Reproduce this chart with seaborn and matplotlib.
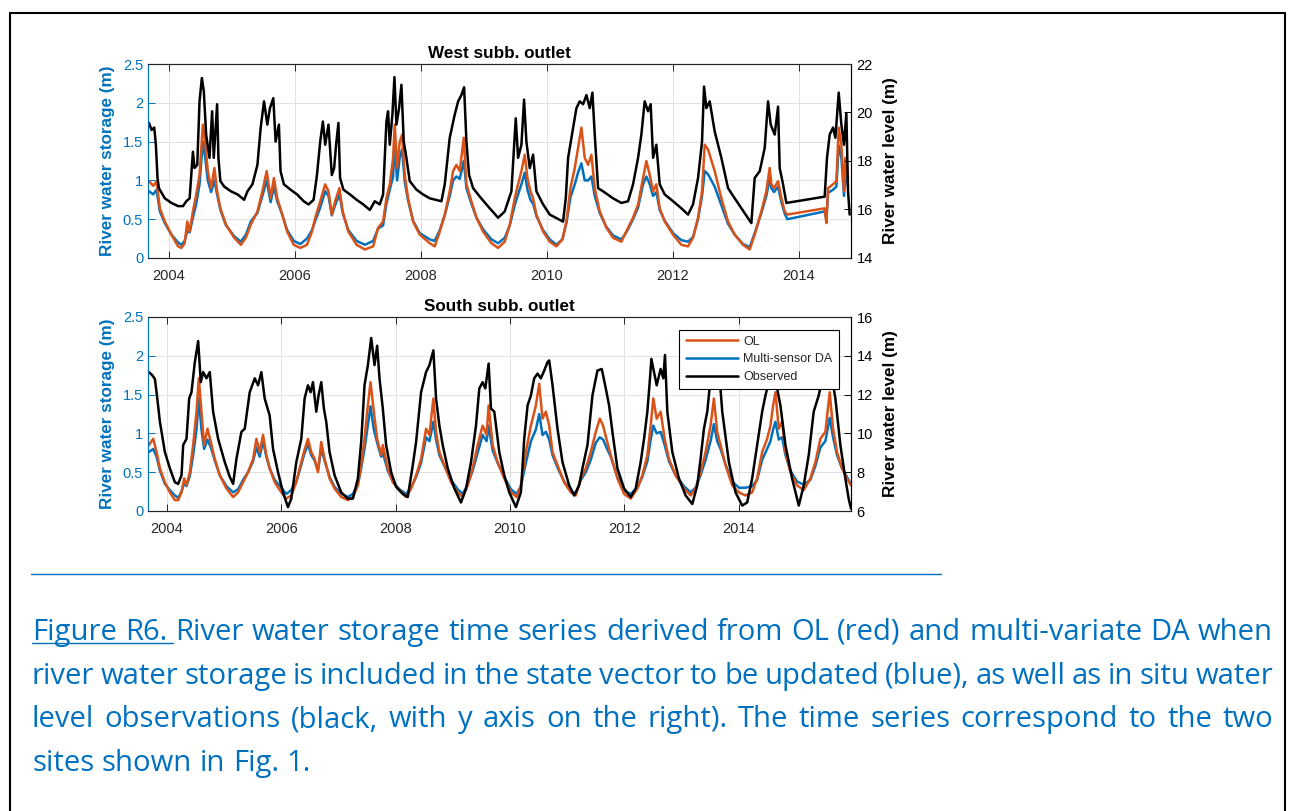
import matplotlib
matplotlib.use("Agg")
import matplotlib.pyplot as plt
from matplotlib.lines import Line2D
import seaborn as sns

# ---------------- data ----------------
# West subbasin outlet: observed water level (m, right axis)
west_obs_year = [2003.685, 2003.727, 2003.769, 2003.795, 2003.821, 2003.843, 2003.937, 2004.042, 2004.147, 2004.226,
                 2004.278, 2004.331, 2004.383, 2004.409, 2004.452, 2004.488, 2004.525, 2004.556, 2004.593, 2004.646,
                 2004.688, 2004.714, 2004.767, 2004.788, 2004.819, 2004.882, 2004.987, 2005.092, 2005.197, 2005.249,
                 2005.328, 2005.407, 2005.459, 2005.512, 2005.564, 2005.606, 2005.659, 2005.696, 2005.748, 2005.774,
                 2005.827, 2005.932, 2006.037, 2006.142, 2006.220, 2006.299, 2006.352, 2006.404, 2006.446, 2006.483,
                 2006.535, 2006.588, 2006.625, 2006.656, 2006.693, 2006.719, 2006.772, 2006.877, 2006.982, 2007.087,
                 2007.192, 2007.270, 2007.349, 2007.402, 2007.455, 2007.481, 2007.508, 2007.550, 2007.582, 2007.614,
                 2007.656, 2007.693, 2007.730, 2007.772, 2007.825, 2007.931, 2008.037, 2008.143, 2008.328, 2008.381,
                 2008.460, 2008.540, 2008.593, 2008.645, 2008.688, 2008.725, 2008.767, 2008.831, 2008.937, 2009.095,
                 2009.228, 2009.333, 2009.439, 2009.508, 2009.545, 2009.598, 2009.640, 2009.677, 2009.730, 2009.783,
                 2009.836, 2009.942, 2010.048, 2010.259, 2010.302, 2010.339, 2010.392, 2010.471, 2010.524, 2010.577,
                 2010.630, 2010.683, 2010.725, 2010.762, 2010.815, 2010.894, 2011.053, 2011.185, 2011.291, 2011.370,
                 2011.450, 2011.502, 2011.555, 2011.608, 2011.650, 2011.688, 2011.740, 2011.793, 2011.873, 2012.005,
                 2012.137, 2012.243, 2012.322, 2012.402, 2012.465, 2012.497, 2012.534, 2012.587, 2012.666, 2012.772,
                 2012.878, 2012.984, 2013.090, 2013.248, 2013.301, 2013.381, 2013.460, 2013.513, 2013.555, 2013.619,
                 2013.672, 2013.698, 2013.751, 2013.804, 2014.412, 2014.449, 2014.492, 2014.545, 2014.582, 2014.635,
                 2014.677, 2014.719, 2014.756, 2014.783, 2014.809]
west_obs_level = [19.57, 19.28, 19.38, 18.67, 17.30, 16.88, 16.46, 16.27, 16.14, 16.14,
                  16.34, 16.46, 18.38, 17.71, 17.84, 20.46, 21.42, 20.88, 19.09, 18.13,
                  20.05, 18.13, 20.34, 18.13, 17.17, 16.94, 16.75, 16.62, 16.40, 16.75,
                  17.04, 17.84, 19.38, 20.46, 19.50, 20.18, 20.59, 18.80, 19.50, 17.58,
                  17.04, 16.82, 16.62, 16.34, 16.21, 16.40, 17.42, 18.80, 19.63, 18.67,
                  19.50, 17.42, 17.71, 18.67, 19.57, 17.30, 16.82, 16.62, 16.40, 16.21,
                  15.98, 16.34, 16.21, 16.62, 19.63, 20.05, 18.67, 19.92, 21.46, 19.50,
                  20.18, 21.14, 18.80, 18.13, 17.17, 16.82, 16.62, 16.46, 16.34, 17.04,
                  18.96, 19.92, 20.46, 20.72, 21.04, 18.80, 17.42, 16.88, 16.53, 16.05,
                  15.66, 15.92, 16.75, 19.76, 18.13, 18.67, 20.53, 18.80, 17.71, 18.26,
                  16.75, 16.21, 15.79, 15.50, 16.46, 18.13, 18.96, 20.18, 20.46, 20.34,
                  20.72, 20.18, 20.82, 19.09, 16.88, 16.75, 16.46, 16.27, 16.34, 17.04,
                  18.13, 19.09, 20.46, 20.05, 20.34, 18.13, 18.67, 17.04, 16.62, 16.34,
                  16.05, 15.79, 16.21, 17.30, 18.80, 21.07, 20.18, 20.46, 19.22, 18.13,
                  16.88, 16.46, 16.05, 15.44, 17.30, 17.58, 18.54, 20.46, 19.50, 19.09,
                  20.24, 17.71, 17.04, 16.27, 16.53, 18.13, 19.09, 19.38, 18.96, 20.82,
                  19.50, 18.67, 19.98, 16.75, 15.79]

# West subbasin outlet: simulated river water storage (m, left axis)
west_sim_year = [2003.685, 2003.753, 2003.806, 2003.858, 2003.937, 2004.042, 2004.147, 2004.200, 2004.252, 2004.294,
                 2004.331, 2004.383, 2004.436, 2004.488, 2004.541, 2004.577, 2004.619, 2004.672, 2004.724, 2004.767,
                 2004.819, 2004.908, 2005.039, 2005.144, 2005.223, 2005.302, 2005.407, 2005.486, 2005.554, 2005.617,
                 2005.669, 2005.722, 2005.801, 2005.879, 2005.984, 2006.089, 2006.194, 2006.273, 2006.326, 2006.404,
                 2006.483, 2006.535, 2006.588, 2006.640, 2006.709, 2006.761, 2006.850, 2006.982, 2007.113, 2007.244,
                 2007.323, 2007.402, 2007.455, 2007.508, 2007.561, 2007.587, 2007.624, 2007.667, 2007.704, 2007.746,
                 2007.799, 2007.878, 2007.984, 2008.143, 2008.222, 2008.302, 2008.381, 2008.460, 2008.513, 2008.566,
                 2008.619, 2008.683, 2008.725, 2008.804, 2008.884, 2008.989, 2009.122, 2009.228, 2009.333, 2009.413,
                 2009.492, 2009.545, 2009.598, 2009.651, 2009.693, 2009.741, 2009.783, 2009.836, 2009.942, 2010.048,
                 2010.153, 2010.249, 2010.312, 2010.376, 2010.445, 2010.497, 2010.550, 2010.603, 2010.656, 2010.709,
                 2010.762, 2010.841, 2010.947, 2011.053, 2011.185, 2011.238, 2011.291, 2011.370, 2011.450, 2011.529,
                 2011.582, 2011.635, 2011.688, 2011.740, 2011.793, 2011.873, 2012.005, 2012.137, 2012.243, 2012.322,
                 2012.402, 2012.465, 2012.508, 2012.560, 2012.666, 2012.772, 2012.878, 2012.984, 2013.116, 2013.222,
                 2013.301, 2013.407, 2013.486, 2013.539, 2013.566, 2013.608, 2013.672, 2013.725, 2013.778, 2013.820,
                 2014.412, 2014.439, 2014.466, 2014.545, 2014.598, 2014.635, 2014.677, 2014.719, 2014.740, 2014.783]
west_ol = [0.99, 0.93, 0.99, 0.64, 0.47, 0.30, 0.15, 0.13, 0.19, 0.47,
           0.34, 0.60, 0.82, 1.07, 1.72, 1.50, 1.12, 0.90, 1.16, 0.86,
           0.64, 0.43, 0.26, 0.17, 0.26, 0.43, 0.60, 0.86, 1.12, 0.77,
           1.03, 0.77, 0.56, 0.34, 0.17, 0.13, 0.17, 0.34, 0.52, 0.73,
           0.95, 0.86, 0.56, 0.73, 0.90, 0.60, 0.34, 0.17, 0.11, 0.15,
           0.39, 0.47, 0.77, 0.95, 1.29, 1.72, 1.16, 1.50, 1.59, 1.07,
           0.77, 0.47, 0.30, 0.19, 0.15, 0.34, 0.56, 0.86, 1.12, 1.20,
           1.12, 1.55, 0.95, 0.73, 0.52, 0.34, 0.19, 0.13, 0.21, 0.43,
           0.77, 0.95, 1.12, 1.33, 1.03, 0.86, 0.77, 0.56, 0.34, 0.21,
           0.15, 0.24, 0.47, 0.90, 1.16, 1.42, 1.68, 1.29, 1.20, 1.33,
           0.90, 0.60, 0.39, 0.26, 0.21, 0.30, 0.39, 0.52, 0.69, 1.03,
           1.25, 1.07, 0.86, 0.95, 0.64, 0.47, 0.30, 0.17, 0.15, 0.26,
           0.52, 0.86, 1.46, 1.40, 1.12, 0.77, 0.47, 0.30, 0.17, 0.11,
           0.30, 0.60, 0.86, 1.16, 0.95, 0.90, 0.99, 0.77, 0.60, 0.56,
           0.64, 0.45, 0.90, 0.95, 0.99, 1.68, 1.46, 0.86, 1.29, 1.03]
west_da = [0.86, 0.82, 0.88, 0.60, 0.45, 0.30, 0.20, 0.17, 0.22, 0.35,
           0.33, 0.52, 0.70, 0.95, 1.50, 1.30, 1.00, 0.85, 1.00, 0.82,
           0.62, 0.42, 0.28, 0.21, 0.30, 0.47, 0.58, 0.80, 1.00, 0.72,
           0.92, 0.73, 0.56, 0.36, 0.22, 0.18, 0.25, 0.36, 0.48, 0.65,
           0.86, 0.80, 0.55, 0.68, 0.82, 0.58, 0.36, 0.22, 0.17, 0.22,
           0.38, 0.42, 0.70, 0.88, 1.05, 1.50, 1.00, 1.30, 1.40, 0.98,
           0.74, 0.48, 0.32, 0.24, 0.22, 0.36, 0.55, 0.80, 1.00, 1.05,
           1.02, 1.25, 0.90, 0.70, 0.52, 0.37, 0.24, 0.19, 0.26, 0.42,
           0.68, 0.82, 0.95, 1.10, 0.88, 0.75, 0.70, 0.54, 0.36, 0.24,
           0.17, 0.24, 0.45, 0.78, 0.95, 1.10, 1.22, 1.00, 1.00, 1.05,
           0.80, 0.58, 0.40, 0.29, 0.24, 0.30, 0.37, 0.50, 0.65, 0.95,
           1.05, 0.95, 0.80, 0.85, 0.62, 0.48, 0.32, 0.23, 0.21, 0.27,
           0.50, 0.80, 1.12, 1.08, 0.92, 0.68, 0.44, 0.30, 0.18, 0.14,
           0.32, 0.58, 0.80, 1.02, 0.90, 0.85, 0.92, 0.72, 0.57, 0.50,
           0.60, 0.50, 0.84, 0.88, 0.92, 1.45, 1.30, 0.80, 1.10, 0.92]

# South subbasin outlet: observed water level (m, right axis)
south_obs_year = [2003.686, 2003.744, 2003.791, 2003.820, 2003.878, 2003.965, 2004.052, 2004.140, 2004.198, 2004.256,
                  2004.285, 2004.343, 2004.390, 2004.430, 2004.489, 2004.547, 2004.593, 2004.634, 2004.692, 2004.750,
                  2004.808, 2004.896, 2005.012, 2005.099, 2005.158, 2005.216, 2005.303, 2005.361, 2005.448, 2005.536,
                  2005.594, 2005.652, 2005.710, 2005.797, 2005.856, 2005.943, 2006.030, 2006.117, 2006.175, 2006.263,
                  2006.350, 2006.408, 2006.466, 2006.513, 2006.554, 2006.612, 2006.652, 2006.699, 2006.745, 2006.786,
                  2006.844, 2006.932, 2007.048, 2007.164, 2007.252, 2007.339, 2007.397, 2007.455, 2007.514, 2007.572,
                  2007.630, 2007.676, 2007.717, 2007.775, 2007.833, 2007.921, 2008.008, 2008.124, 2008.211, 2008.299,
                  2008.357, 2008.444, 2008.531, 2008.590, 2008.659, 2008.706, 2008.764, 2008.822, 2008.910, 2009.026,
                  2009.142, 2009.230, 2009.317, 2009.404, 2009.462, 2009.520, 2009.567, 2009.625, 2009.666, 2009.724,
                  2009.811, 2009.898, 2009.986, 2010.102, 2010.189, 2010.247, 2010.306, 2010.364, 2010.422, 2010.480,
                  2010.538, 2010.597, 2010.655, 2010.684, 2010.742, 2010.829, 2010.916, 2011.033, 2011.120, 2011.207,
                  2011.265, 2011.353, 2011.440, 2011.527, 2011.603, 2011.673, 2011.731, 2011.789, 2011.876, 2011.993,
                  2012.109, 2012.196, 2012.283, 2012.342, 2012.400, 2012.446, 2012.470, 2012.516, 2012.563, 2012.632,
                  2012.679, 2012.708, 2012.749, 2012.836, 2012.952, 2013.069, 2013.185, 2013.272, 2013.330, 2013.389,
                  2013.447, 2013.505, 2013.563, 2013.650, 2013.709, 2013.825, 2013.941, 2014.058, 2014.145, 2014.232,
                  2014.319, 2014.407, 2014.465, 2014.552, 2014.610, 2014.668, 2014.726, 2014.814, 2014.930, 2015.047,
                  2015.134, 2015.221, 2015.308, 2015.396, 2015.483, 2015.599, 2015.687, 2015.774, 2015.861, 2015.919,
                  2015.960]
south_obs_level = [13.16, 13.00, 12.80, 12.12, 10.60, 9.04, 8.20, 7.48, 7.40, 7.84,
                   9.40, 9.72, 11.80, 12.12, 13.68, 14.76, 12.64, 13.16, 12.84, 13.16,
                   11.12, 9.72, 8.52, 7.76, 7.40, 8.68, 10.08, 10.24, 12.12, 12.84,
                   12.48, 13.16, 11.80, 10.92, 9.20, 8.00, 6.96, 6.20, 6.64, 8.52,
                   9.72, 11.80, 12.48, 12.12, 12.64, 11.12, 11.96, 12.64, 11.28, 10.60,
                   9.04, 7.84, 6.96, 6.64, 6.64, 7.68, 9.56, 12.48, 13.52, 14.92,
                   13.52, 14.52, 12.84, 11.28, 9.40, 8.00, 7.24, 6.88, 6.72, 8.36,
                   9.56, 12.12, 13.16, 13.52, 14.28, 11.80, 10.40, 9.40, 8.20, 7.16,
                   6.44, 7.16, 8.52, 10.40, 12.32, 12.64, 12.32, 13.60, 11.28, 11.12,
                   9.04, 7.84, 6.96, 6.20, 6.96, 9.72, 11.44, 11.96, 12.84, 13.08,
                   12.84, 13.24, 13.68, 13.76, 12.48, 10.24, 8.52, 7.32, 6.80, 7.32,
                   8.20, 9.40, 11.96, 13.24, 13.32, 12.32, 11.44, 10.08, 8.20, 7.16,
                   6.72, 7.16, 8.52, 9.72, 11.12, 12.84, 13.84, 13.16, 12.48, 13.32,
                   12.84, 14.04, 11.12, 9.04, 7.68, 6.80, 6.36, 7.32, 8.68, 10.24,
                   11.12, 12.84, 13.60, 13.40, 11.12, 8.52, 6.96, 6.28, 6.44, 7.68,
                   9.40, 11.12, 11.96, 13.00, 13.68, 12.32, 11.44, 9.40, 7.68, 6.28,
                   7.32, 8.88, 11.12, 11.96, 13.16, 13.40, 11.80, 9.40, 7.68, 6.64,
                   6.12]

# South subbasin outlet: simulated river water storage (m, left axis)
south_sim_year = [2003.686, 2003.761, 2003.820, 2003.878, 2003.965, 2004.052, 2004.140, 2004.198, 2004.256, 2004.302,
                  2004.343, 2004.401, 2004.459, 2004.518, 2004.558, 2004.605, 2004.651, 2004.710, 2004.768, 2004.838,
                  2004.925, 2005.041, 2005.158, 2005.245, 2005.332, 2005.419, 2005.507, 2005.565, 2005.623, 2005.681,
                  2005.739, 2005.797, 2005.885, 2006.001, 2006.088, 2006.175, 2006.263, 2006.321, 2006.396, 2006.466,
                  2006.524, 2006.583, 2006.641, 2006.699, 2006.757, 2006.844, 2006.932, 2007.048, 2007.164, 2007.252,
                  2007.339, 2007.397, 2007.455, 2007.502, 2007.560, 2007.618, 2007.676, 2007.746, 2007.775, 2007.862,
                  2007.950, 2008.066, 2008.182, 2008.270, 2008.357, 2008.444, 2008.531, 2008.590, 2008.659, 2008.706,
                  2008.764, 2008.851, 2008.968, 2009.084, 2009.171, 2009.259, 2009.346, 2009.433, 2009.520, 2009.590,
                  2009.625, 2009.695, 2009.782, 2009.898, 2010.015, 2010.114, 2010.189, 2010.276, 2010.364, 2010.451,
                  2010.509, 2010.567, 2010.626, 2010.684, 2010.742, 2010.829, 2010.945, 2011.062, 2011.149, 2011.236,
                  2011.324, 2011.411, 2011.498, 2011.568, 2011.626, 2011.684, 2011.760, 2011.876, 2011.993, 2012.109,
                  2012.225, 2012.312, 2012.400, 2012.458, 2012.504, 2012.563, 2012.632, 2012.702, 2012.778, 2012.894,
                  2013.040, 2013.156, 2013.243, 2013.330, 2013.418, 2013.505, 2013.563, 2013.621, 2013.679, 2013.767,
                  2013.883, 2013.999, 2014.116, 2014.232, 2014.319, 2014.407, 2014.494, 2014.552, 2014.598, 2014.639,
                  2014.697, 2014.755, 2014.814, 2014.901, 2015.017, 2015.134, 2015.250, 2015.337, 2015.425, 2015.512,
                  2015.588, 2015.646, 2015.716, 2015.803, 2015.890, 2015.960]
south_ol = [0.85, 0.93, 0.76, 0.55, 0.37, 0.24, 0.14, 0.14, 0.24, 0.42,
            0.33, 0.50, 0.85, 1.28, 1.71, 1.28, 0.85, 1.06, 0.89, 0.67,
            0.46, 0.29, 0.18, 0.24, 0.37, 0.50, 0.67, 0.93, 0.76, 0.98,
            0.72, 0.55, 0.37, 0.24, 0.16, 0.20, 0.37, 0.55, 0.76, 0.93,
            0.76, 0.67, 0.50, 0.89, 0.67, 0.42, 0.29, 0.18, 0.14, 0.18,
            0.33, 0.59, 0.93, 1.28, 1.66, 1.28, 0.93, 0.72,
            0.85, 0.55, 0.37, 0.27, 0.18, 0.29, 0.46, 0.67, 1.06, 0.98,
            1.45, 1.02, 0.76, 0.59, 0.37, 0.24, 0.18, 0.33, 0.55, 0.85,
            1.10, 0.98, 1.36, 0.85, 0.63, 0.42, 0.24, 0.18, 0.33, 0.76,
            1.10, 1.36, 1.64, 1.19, 1.28, 1.10, 0.76, 0.59, 0.37, 0.24,
            0.20, 0.42, 0.55, 0.76, 1.02, 1.19, 1.10, 0.93, 0.72, 0.42,
            0.22, 0.16, 0.29, 0.46, 0.72, 1.10, 1.45, 1.19, 1.28, 0.93,
            0.67, 0.46, 0.29, 0.20, 0.29, 0.50, 0.76, 1.10, 1.45, 1.02,
            0.85, 0.59, 0.33, 0.24, 0.20, 0.24, 0.42, 0.76, 0.93, 1.10,
            1.36, 1.53, 1.06, 1.15, 0.76, 0.50, 0.33, 0.27, 0.42, 0.63,
            0.93, 1.02, 1.53, 1.06, 0.76, 0.55, 0.42, 0.33]
south_da = [0.76, 0.80, 0.70, 0.52, 0.35, 0.27, 0.20, 0.17, 0.25, 0.36,
            0.32, 0.45, 0.72, 1.05, 1.45, 1.05, 0.80, 0.92, 0.82, 0.65,
            0.46, 0.32, 0.24, 0.28, 0.40, 0.50, 0.64, 0.82, 0.70, 0.90,
            0.70, 0.55, 0.40, 0.30, 0.22, 0.27, 0.38, 0.52, 0.72, 0.86,
            0.72, 0.65, 0.52, 0.80, 0.65, 0.44, 0.31, 0.22, 0.18, 0.22,
            0.34, 0.55, 0.80, 1.05, 1.35, 1.05, 0.88, 0.70,
            0.75, 0.52, 0.38, 0.28, 0.22, 0.30, 0.44, 0.62, 0.95, 0.90,
            1.15, 0.92, 0.72, 0.58, 0.40, 0.28, 0.22, 0.34, 0.52, 0.75,
            0.98, 0.90, 1.10, 0.78, 0.62, 0.44, 0.28, 0.22, 0.32, 0.62,
            0.90, 1.05, 1.25, 0.98, 1.02, 0.92, 0.72, 0.56, 0.38, 0.26,
            0.22, 0.40, 0.50, 0.66, 0.88, 0.95, 0.92, 0.82, 0.70, 0.44,
            0.26, 0.22, 0.30, 0.44, 0.64, 0.92, 1.10, 1.00, 1.02, 0.85,
            0.64, 0.46, 0.32, 0.24, 0.30, 0.46, 0.66, 0.90, 1.12, 0.90,
            0.80, 0.60, 0.38, 0.30, 0.30, 0.32, 0.40, 0.66, 0.80, 0.90,
            1.05, 1.15, 0.92, 0.95, 0.72, 0.52, 0.38, 0.34, 0.40, 0.58,
            0.82, 0.90, 1.20, 0.95, 0.72, 0.55, 0.44, 0.34]

series_labels = ["OL", "Multi-sensor DA", "Observed"]
panel_titles = ["West subb. outlet", "South subb. outlet"]
year_ticks = [2004, 2006, 2008, 2010, 2012, 2014]
storage_ticks = [0, 0.5, 1, 1.5, 2, 2.5]
west_level_ticks = [14, 16, 18, 20, 22]
south_level_ticks = [6, 8, 10, 12, 14, 16]
caption_lines = [
    "Figure R6. River water storage time series derived from OL (red) and multi-variate DA  when",
    "river water storage is included in the state vector to be updated (blue), as well as in situ water",
    "level observations (black, with y axis on the right). The time series correspond to the two",
    "sites shown in Fig. 1.",
]

# ---------------- style ----------------
ORANGE = "#D95319"
BLUE = "#0072BD"
CAP_BLUE = "#0070C0"
GRIDC = "#e1e1e1"
SPINE = "#262626"

sns.set_theme(style="white")
plt.rcParams["font.family"] = ["Liberation Sans", "DejaVu Sans"]

W, H = 1298, 811
fig = plt.figure(figsize=(W / 100, H / 100), dpi=100)
fig.patch.set_facecolor("white")


def px_box(left, top, right, bottom):
    return [left / W, 1 - bottom / H, (right - left) / W, (bottom - top) / H]


def draw_panel(ax, sim_t, ol, da, obs_t, obs, title, level_ticks, xmax, legend=False):
    sns.lineplot(x=sim_t, y=da, ax=ax, color=BLUE, lw=1.8, estimator=None, sort=False)
    sns.lineplot(x=sim_t, y=ol, ax=ax, color=ORANGE, lw=1.8, estimator=None, sort=False)
    ax.set_xlim(2003.67, xmax)
    ax.set_ylim(0, 2.5)
    ax.set_xticks(year_ticks, labels=[str(y) for y in year_ticks])
    ax.set_yticks(storage_ticks, labels=[f"{v:g}" for v in storage_ticks])
    ax.grid(True, color=GRIDC, lw=0.7)
    ax.set_axisbelow(True)
    ax.xaxis.set_ticks_position("both")
    ax.tick_params(axis="x", direction="in", length=5, width=0.7, pad=8,
                   labelsize=10.5, colors=SPINE)
    ax.tick_params(axis="y", direction="in", length=5, width=0.7, pad=3.5,
                   labelsize=10.5, colors=BLUE, left=True, right=False)
    ax.set_ylabel("River water storage (m)", color=BLUE, fontsize=12.3, fontweight="bold")
    ax.yaxis.set_label_coords(-0.047, 0.5)
    ax.set_xlabel("")
    ax.set_title(title, fontsize=12.3, fontweight="bold", pad=4, color="black")

    axr = ax.twinx()
    sns.lineplot(x=obs_t, y=obs, ax=axr, color="black", lw=1.8, estimator=None, sort=False)
    axr.set_ylim(level_ticks[0], level_ticks[-1])
    axr.set_yticks(level_ticks, labels=[str(v) for v in level_ticks])
    axr.tick_params(axis="y", direction="in", length=5, width=0.7, pad=4,
                    labelsize=10.5, colors="black", right=True, left=False)
    axr.set_ylabel("River water level (m)", color="black", fontsize=12.3, fontweight="bold")
    axr.yaxis.set_label_coords(1.045, 0.5)
    axr.grid(False)

    for a in (ax, axr):
        for side in ("top", "bottom"):
            a.spines[side].set_color(SPINE)
        a.spines["left"].set_color(BLUE)
        a.spines["right"].set_color("black")
        for s in a.spines.values():
            s.set_linewidth(0.8)

    if legend:
        handles = [Line2D([], [], color=c, lw=1.8) for c in (ORANGE, BLUE, "black")]
        leg = axr.legend(handles, series_labels, loc="upper right", fontsize=9,
                         frameon=True, fancybox=False, edgecolor="black", framealpha=1,
                         borderaxespad=1.0, handlelength=4.2, handletextpad=0.4,
                         labelspacing=0.45, borderpad=0.5)
        leg.get_frame().set_linewidth(0.8)
        leg.set_zorder(10)
    return axr


ax_top = fig.add_axes(px_box(148, 64, 851, 258))
draw_panel(ax_top, west_sim_year, west_ol, west_da, west_obs_year, west_obs_level,
           panel_titles[0], west_level_ticks, 2014.83)

ax_bot = fig.add_axes(px_box(148, 317, 851, 511))
draw_panel(ax_bot, south_sim_year, south_ol, south_da, south_obs_year, south_obs_level,
           panel_titles[1], south_level_ticks, 2015.96, legend=True)

# ---------------- page decorations ----------------
border_kw = dict(transform=fig.transFigure, color="black", lw=1.5)
fig.add_artist(Line2D([10 / W, 10 / W], [0, 1 - 13 / H], **border_kw))
fig.add_artist(Line2D([10 / W, 1285 / W], [1 - 13 / H, 1 - 13 / H], **border_kw))
fig.add_artist(Line2D([1285 / W, 1285 / W], [0, 1 - 13 / H], **border_kw))
fig.add_artist(Line2D([31 / W, 941 / W], [1 - 574 / H, 1 - 574 / H],
                      transform=fig.transFigure, color=CAP_BLUE, lw=1.0))

# caption, justified word by word
CAP_FONT = ["Open Sans", "DejaVu Sans"]
renderer = fig.canvas.get_renderer()


def text_width(s, size):
    t = fig.text(0, 0, s, fontsize=size, family=CAP_FONT)
    w = t.get_window_extent(renderer).width
    t.remove()
    return w


# size the caption so the short last line spans the same width as in the reference
CAP_FS = 17 * 279 / text_width(caption_lines[-1], 17)
space_w = text_width("a a", CAP_FS) - text_width("aa", CAP_FS)
cap_left, cap_right = 32, 1273
baselines = [640, 684, 727, 771]
for i, (line, yb) in enumerate(zip(caption_lines, baselines)):
    words = line.split()
    widths = [text_width(w, CAP_FS) for w in words]
    last = i == len(caption_lines) - 1
    gap = space_w if last else (cap_right - cap_left - sum(widths)) / (len(words) - 1)
    x = cap_left
    starts = []
    for w, wd in zip(words, widths):
        fig.text(x / W, 1 - yb / H, w, fontsize=CAP_FS, family=CAP_FONT,
                 color=CAP_BLUE, va="baseline", ha="left")
        starts.append(x)
        x += wd + gap
    if i == 0:
        fig.add_artist(Line2D([cap_left / W, (starts[2] - 2) / W],
                              [1 - (yb + 3) / H, 1 - (yb + 3) / H],
                              transform=fig.transFigure, color=CAP_BLUE, lw=1.0))

fig.savefig("out.png", dpi=100, facecolor="white")
